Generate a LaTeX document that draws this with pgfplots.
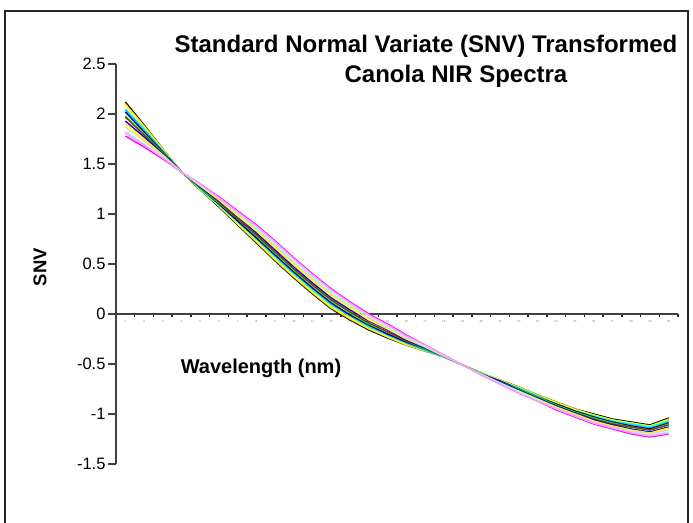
\documentclass[border=0pt]{standalone}
\usepackage{pgfplots}
\usepackage{pgfplotstable}
\pgfplotsset{compat=1.18}
\usepackage{fontspec}
\setmainfont{Liberation Sans}
\definecolor{cgold}{HTML}{FFCC00}
\definecolor{cyel}{HTML}{FFFF00}
\definecolor{ccyan}{HTML}{00FFFF}
\definecolor{csky}{HTML}{00CCFF}
\definecolor{cnavy}{HTML}{000080}
\definecolor{cgreen}{HTML}{00FF00}
\definecolor{cteal}{HTML}{008080}
\definecolor{cblue}{HTML}{0000FF}
\definecolor{ctan}{HTML}{FFCC99}
\definecolor{clcyan}{HTML}{99FFFF}
\definecolor{cpink}{HTML}{FF99FF}
\definecolor{cmag}{HTML}{FF00FF}
\definecolor{cbrown}{HTML}{993300}

\pgfplotstableread{
x    A     B     C     D     E     F     G     H     I     J     K     L     M     N
0.5  2.12  2.10  2.09  2.05  2.04  2.02  1.98  1.97  1.93  1.90  1.87  1.83  1.81  1.78
1.5  1.89  1.88  1.87  1.85  1.84  1.82  1.80  1.79  1.77  1.75  1.73  1.70  1.69  1.67
2.5  1.65  1.65  1.64  1.63  1.63  1.62  1.61  1.60  1.60  1.59  1.58  1.57  1.56  1.55
3.5  1.42  1.42  1.42  1.42  1.42  1.42  1.42  1.42  1.42  1.42  1.42  1.42  1.42  1.42
4.5  1.24  1.24  1.25  1.25  1.26  1.26  1.26  1.27  1.27  1.28  1.29  1.29  1.30  1.30
5.5  1.07  1.08  1.08  1.09  1.10  1.10  1.11  1.12  1.13  1.14  1.15  1.16  1.16  1.17
6.5  0.89  0.90  0.90  0.92  0.93  0.93  0.95  0.95  0.97  0.98  1.00  1.01  1.02  1.03
7.5  0.71  0.72  0.73  0.75  0.76  0.76  0.78  0.79  0.81  0.83  0.85  0.86  0.88  0.89
8.5  0.53  0.54  0.55  0.57  0.58  0.59  0.61  0.62  0.64  0.66  0.68  0.70  0.72  0.73
9.5  0.36  0.37  0.38  0.40  0.41  0.42  0.44  0.45  0.47  0.49  0.51  0.53  0.55  0.56
10.5 0.20  0.21  0.22  0.24  0.25  0.26  0.28  0.29  0.31  0.33  0.35  0.37  0.39  0.40
11.5 0.05  0.06  0.07  0.09  0.10  0.11  0.13  0.14  0.16  0.18  0.20  0.22  0.24  0.25
12.5 -0.06 -0.05 -0.04 -0.02 -0.02 -0.01 0.01  0.02  0.04  0.06  0.08  0.09  0.11  0.12
13.5 -0.16 -0.15 -0.14 -0.13 -0.12 -0.11 -0.10 -0.09 -0.07 -0.06 -0.04 -0.02 -0.01 0.00
14.5 -0.24 -0.23 -0.23 -0.21 -0.21 -0.20 -0.18 -0.18 -0.16 -0.15 -0.14 -0.12 -0.11 -0.10
15.5 -0.31 -0.31 -0.30 -0.29 -0.29 -0.28 -0.27 -0.27 -0.26 -0.25 -0.24 -0.23 -0.22 -0.21
16.5 -0.37 -0.37 -0.36 -0.36 -0.36 -0.35 -0.35 -0.34 -0.34 -0.33 -0.33 -0.32 -0.31 -0.31
17.5 -0.43 -0.43 -0.43 -0.43 -0.43 -0.42 -0.42 -0.42 -0.42 -0.42 -0.42 -0.41 -0.41 -0.41
18.5 -0.51 -0.51 -0.51 -0.51 -0.51 -0.51 -0.51 -0.51 -0.51 -0.51 -0.51 -0.51 -0.51 -0.51
19.5 -0.59 -0.59 -0.59 -0.59 -0.60 -0.60 -0.60 -0.60 -0.60 -0.60 -0.61 -0.61 -0.61 -0.61
20.5 -0.66 -0.66 -0.66 -0.67 -0.67 -0.67 -0.68 -0.68 -0.68 -0.69 -0.69 -0.69 -0.70 -0.70
21.5 -0.73 -0.73 -0.74 -0.74 -0.75 -0.75 -0.75 -0.76 -0.76 -0.77 -0.78 -0.78 -0.79 -0.79
22.5 -0.81 -0.81 -0.82 -0.82 -0.83 -0.83 -0.83 -0.84 -0.84 -0.85 -0.86 -0.86 -0.87 -0.87
23.5 -0.88 -0.88 -0.89 -0.90 -0.90 -0.90 -0.91 -0.92 -0.92 -0.93 -0.94 -0.95 -0.95 -0.96
24.5 -0.95 -0.95 -0.96 -0.97 -0.97 -0.97 -0.98 -0.99 -0.99 -1.00 -1.01 -1.02 -1.02 -1.03
25.5 -1.00 -1.01 -1.01 -1.02 -1.03 -1.03 -1.04 -1.05 -1.06 -1.07 -1.08 -1.09 -1.09 -1.10
26.5 -1.05 -1.06 -1.06 -1.07 -1.08 -1.08 -1.09 -1.10 -1.11 -1.12 -1.13 -1.14 -1.14 -1.15
27.5 -1.08 -1.09 -1.09 -1.10 -1.11 -1.12 -1.13 -1.13 -1.15 -1.16 -1.17 -1.18 -1.19 -1.20
28.5 -1.11 -1.12 -1.12 -1.13 -1.14 -1.15 -1.16 -1.16 -1.18 -1.19 -1.20 -1.21 -1.22 -1.23
29.5 -1.04 -1.05 -1.06 -1.07 -1.08 -1.09 -1.10 -1.11 -1.13 -1.14 -1.16 -1.18 -1.19 -1.20
}\spectra

\begin{document}
\begin{tikzpicture}[x=1pt,y=1pt]
\useasboundingbox (0,0) rectangle (693,522);
\draw[line width=1.2pt, black!85] (5,-10) rectangle (688,511);
\begin{axis}[
  at={(116pt,58pt)}, anchor=south west,
  scale only axis, width=562pt, height=400pt,
  xmin=0, xmax=30, ymin=-1.5, ymax=2.5,
  axis x line=middle, axis y line=left,
  axis line style={-, line width=1.3pt, black!75},
  ytick={-1.5,-1,-0.5,0,0.5,1,1.5,2,2.5},
  yticklabels={-1.5,-1,-0.5,0,0.5,1,1.5,2,2.5},
  y tick label style={font=\fontsize{16.5}{16.5}\selectfont, xshift=1pt},
  ytick style={line width=1.3pt, black!75},
  tick align=outside,
  major tick length=8pt,
  xtick={0.5,1.5,...,29.5},
  xticklabels={1,2,3,4,5,6,7,8,9,10,11,12,13,14,15,16,17,18,19,20,21,22,23,24,25,26,27,28,29,30},
  major x tick style={draw=none},
  x tick label style={font=\fontsize{3}{3}\selectfont, text=black!50, yshift=5pt},
  minor xtick={0,1,...,30},
  minor tick length=3pt,
  minor x tick style={line width=1.5pt, black!85},
  clip=false,
  every axis plot/.append style={line width=1.4pt, no markers},
]
\addplot[black] table[x=x,y=A] {\spectra};
\addplot[cgold] table[x=x,y=B] {\spectra};
\addplot[cyel] table[x=x,y=C] {\spectra};
\addplot[ccyan] table[x=x,y=D] {\spectra};
\addplot[csky] table[x=x,y=E] {\spectra};
\addplot[cnavy] table[x=x,y=F] {\spectra};
\addplot[cgreen] table[x=x,y=G] {\spectra};
\addplot[cbrown] table[x=x,y=H] {\spectra};
\addplot[cblue] table[x=x,y=I] {\spectra};
\addplot[cyel] table[x=x,y=J] {\spectra};
\addplot[cmag] table[x=x,y=N] {\spectra};
\addplot[ctan] table[x=x,y=K] {\spectra};
\addplot[clcyan] table[x=x,y=L] {\spectra};
\addplot[cpink] table[x=x,y=M] {\spectra};
\end{axis}
\node[font=\bfseries\fontsize{24}{24}\selectfont] at (426,476) {Standard Normal Variate (SNV) Transformed};
\node[font=\bfseries\fontsize{24}{24}\selectfont] at (456,446) {Canola NIR Spectra};
\node[font=\bfseries\fontsize{18.5}{18.5}\selectfont, rotate=90] at (40,255) {SNV};
\node[font=\bfseries\fontsize{20}{20}\selectfont] at (261,154) {Wavelength (nm)};
\end{tikzpicture}
\end{document}
